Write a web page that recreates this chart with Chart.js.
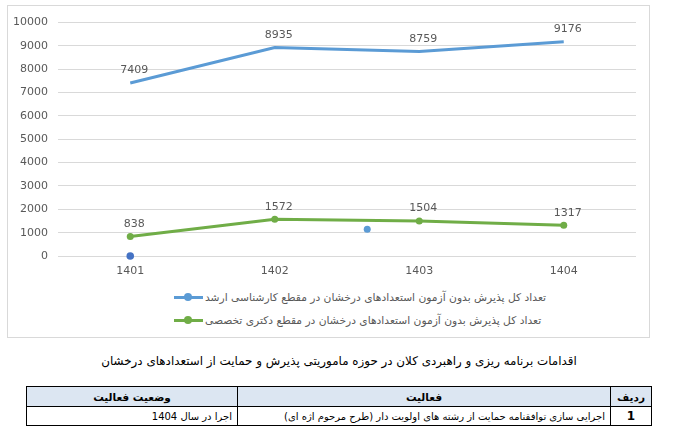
<!DOCTYPE html>
<html>
<head>
<meta charset="utf-8">
<script src="https://cdn.jsdelivr.net/npm/chart.js@4"></script>
<style>
  html, body { margin:0; padding:0; background:#fff; width:678px; height:444px; overflow:hidden; font-family:"DejaVu Sans", "Noto Sans", sans-serif; }
  #box { position:absolute; left:7px; top:5px; width:641px; height:331px; border:1px solid #d9d9d9; background:#fff; }
  #cv { position:absolute; left:0; top:0; }
  .leg { position:absolute; left:166px; height:14px; display:flex; align-items:center; font-size:10.7px; color:#595959; white-space:nowrap; }
  .sym { position:relative; width:29px; height:10px; margin-right:2px; }
  .sym .ln { position:absolute; left:0; right:0; top:3.5px; height:3px; }
  .sym .dt { position:absolute; left:10px; top:1px; width:8px; height:8px; border-radius:50%; }
  #cap { position:absolute; left:0; width:678px; top:354px; text-align:center; font-size:11.9px; direction:rtl; color:#000; }
  table { position:absolute; left:26px; top:386px; width:626px; border-collapse:collapse; direction:rtl; font-size:10px; }
  td, th { border:1.5px solid #000; padding:0 5px; }
  th { background:#dce6f2; height:19px; font-weight:bold; text-align:center; font-size:10.5px; }
  td { height:18px; text-align:right; }
  td.num { text-align:center; font-weight:bold; font-size:12px; }
</style>
</head>
<body>
<div id="box">
  <canvas id="cv"></canvas>
  <div class="leg" id="leg0" style="top:284px"></div>
  <div class="leg" id="leg1" style="top:307px"></div>
</div>
<div id="cap">اقدامات برنامه ریزی و راهبردی کلان در حوزه ماموریتی پذیرش و حمایت از استعدادهای درخشان</div>
<table>
  <tr><th style="width:30px">ردیف</th><th style="width:362px">فعالیت</th><th>وضعیت فعالیت</th></tr>
  <tr><td class="num">1</td><td>اجرایی سازی توافقنامه حمایت از رشته های اولویت دار (طرح مرحوم اژه ای)</td><td>اجرا در سال 1404</td></tr>
</table>
<script>
// ---- data ----
const years = [1401, 1402, 1403, 1404];
const mastersValues = [7409, 8935, 8759, 9176];
const phdValues = [838, 1572, 1504, 1317];
const mastersLabel = "تعداد کل پذیرش بدون آزمون استعدادهای درخشان در مقطع کارشناسی ارشد";
const phdLabel = "تعداد کل پذیرش بدون آزمون استعدادهای درخشان در مقطع دکتری تخصصی";
// stray markers visible in the picture
const strayDarkX = [1401];
const strayDarkY = [0];
const strayLightX = [1402.64];
const strayLightY = [1144];
const yTicks = [0,1000,2000,3000,4000,5000,6000,7000,8000,9000,10000];

const BLUE = '#5b9bd5', GREEN = '#70ad47', DARK = '#4472c4';

// legend (HTML)
function makeLeg(id, color, text) {
  const el = document.getElementById(id);
  el.innerHTML = '<div class="sym"><div class="ln" style="background:'+color+'"></div><div class="dt" style="background:'+color+'"></div></div><span>'+text+'</span>';
}
makeLeg('leg0', BLUE, mastersLabel);
makeLeg('leg1', GREEN, phdLabel);

const cv = document.getElementById('cv');
cv.width = 641; cv.height = 282;
cv.style.width = '641px'; cv.style.height = '282px';

const valueLabels = {
  id: 'valueLabels',
  afterDatasetsDraw(chart) {
    const ctx = chart.ctx;
    ctx.save();
    ctx.font = '11px "DejaVu Sans", sans-serif';
    ctx.fillStyle = '#595959';
    ctx.textAlign = 'center';
    ctx.textBaseline = 'middle';
    [0, 1].forEach(di => {
      const meta = chart.getDatasetMeta(di);
      const ds = chart.data.datasets[di];
      meta.data.forEach((pt, i) => {
        const v = ds.data[i].y;
        ctx.fillText(String(v), pt.x + 4, pt.y - 12.5);
      });
    });
    ctx.restore();
  }
};

new Chart(cv, {
  type: 'line',
  data: {
    datasets: [
      { label: mastersLabel, data: years.map((x,i)=>({x, y: mastersValues[i]})), borderColor: BLUE, backgroundColor: BLUE, borderWidth: 3, pointRadius: 0, tension: 0 },
      { label: phdLabel, data: years.map((x,i)=>({x, y: phdValues[i]})), borderColor: GREEN, backgroundColor: GREEN, borderWidth: 3, pointRadius: 3.5, pointBorderWidth: 0, tension: 0 },
      { label: 'a', data: strayDarkX.map((x,i)=>({x, y: strayDarkY[i]})), showLine:false, clip: false, pointRadius: 3.8, pointBorderWidth:0, backgroundColor: DARK, borderColor: DARK },
      { label: 'b', data: strayLightX.map((x,i)=>({x, y: strayLightY[i]})), showLine:false, clip: false, pointRadius: 3.5, pointBorderWidth:0, backgroundColor: BLUE, borderColor: BLUE }
    ]
  },
  options: {
    responsive: false,
    animation: false,
    devicePixelRatio: 1,
    layout: { padding: { top: 14, right: 13, left: 0, bottom: 0 } },
    plugins: { legend: { display: false }, tooltip: { enabled: false } },
    scales: {
      x: {
        type: 'linear', min: years[0] - 0.5, max: years[years.length-1] + 0.5,
        afterBuildTicks: s => { s.ticks = years.map(v => ({ value: v })); },
        afterFit: s => { s.height = 32; },
        grid: { display: false, drawTicks: false },
        border: { display: false },
        ticks: { padding: 9, color: '#595959', font: { family: '"DejaVu Sans", sans-serif', size: 11 }, callback: v => String(v) }
      },
      y: {
        min: 0, max: 10000,
        afterBuildTicks: s => { s.ticks = yTicks.map(v => ({ value: v })); },
        afterFit: s => { s.width = 50; },
        grid: { color: '#d9d9d9', lineWidth: 1, drawTicks: false },
        border: { display: false },
        ticks: { padding: 10, color: '#595959', font: { family: '"DejaVu Sans", sans-serif', size: 11 }, callback: v => String(v) }
      }
    }
  },
  plugins: [valueLabels]
});
</script>
</body>
</html>
